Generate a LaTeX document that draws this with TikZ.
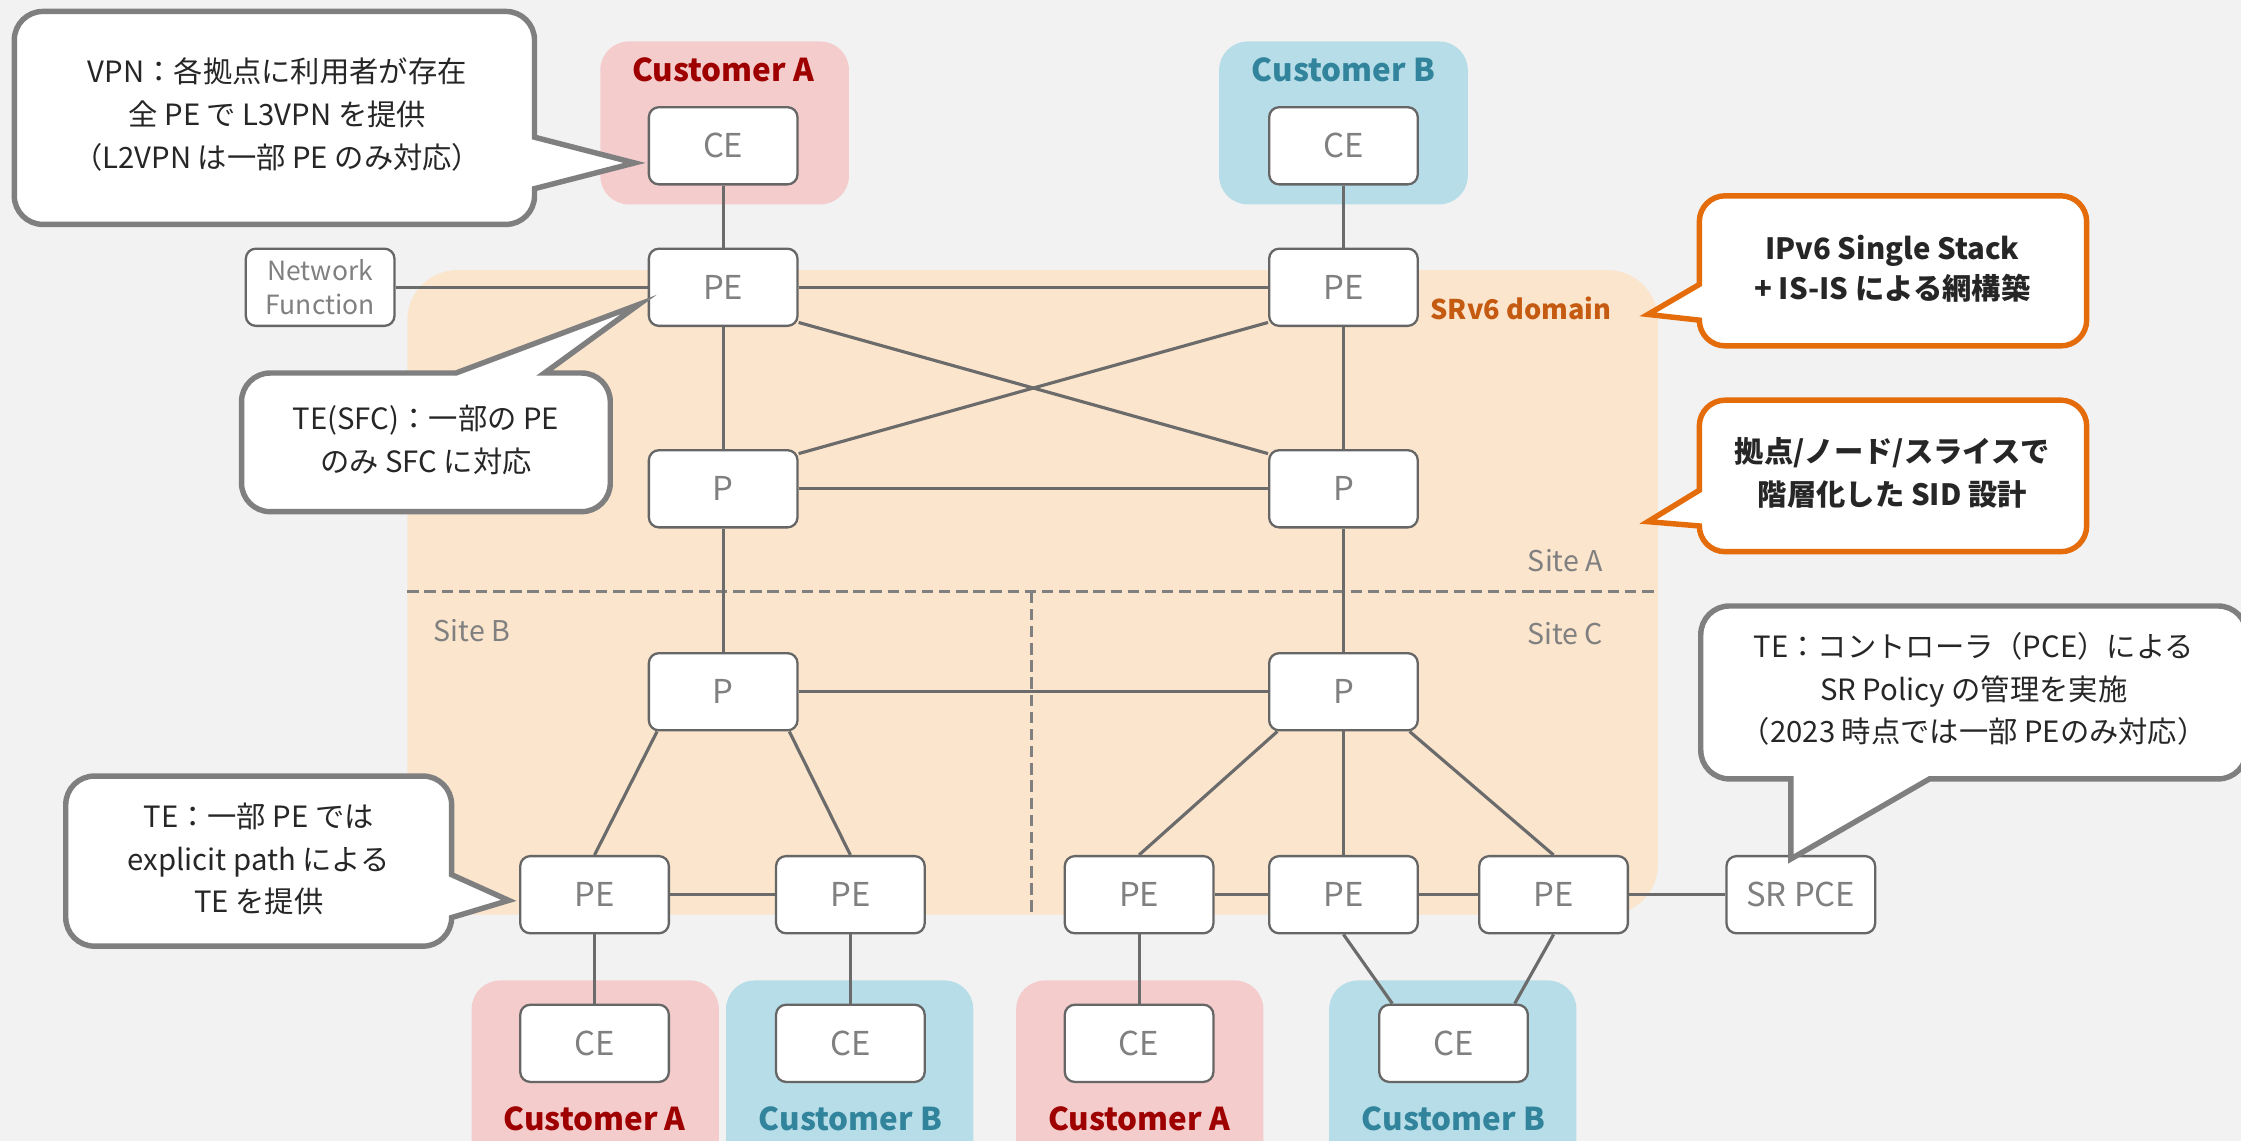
\documentclass[tikz,border=0pt]{standalone}
\usepackage{fontspec}
\setmainfont{Noto Sans CJK JP}
\usetikzlibrary{calc}

\definecolor{bggray}{HTML}{F2F2F2}
\definecolor{domfill}{HTML}{FBE5CD}
\definecolor{cafill}{HTML}{F4CCCC}
\definecolor{cbfill}{HTML}{B7DEE8}
\definecolor{catext}{HTML}{9E0000}
\definecolor{cbtext}{HTML}{31849B}
\definecolor{linegray}{HTML}{6B6B6B}
\definecolor{boxgray}{HTML}{666666}
\definecolor{labgray}{HTML}{808080}
\definecolor{notegray}{HTML}{7F7F7F}
\definecolor{noteorange}{HTML}{E46C0A}
\definecolor{domtext}{HTML}{C55A11}
\definecolor{notetext}{HTML}{262626}

\begin{document}
\begin{tikzpicture}[x=1pt,y=-1pt,
  dev/.style={draw=boxgray, line width=1.6pt, fill=white, rounded corners=7pt,
    minimum width=104pt, minimum height=54pt, inner sep=0pt, text=labgray,
    font=\fontsize{23}{26}\selectfont},
  link/.style={draw=linegray, line width=2.2pt},
  cust/.style={rounded corners=20pt},
  custlab/.style={font=\fontsize{22}{24}\selectfont\bfseries},
  sitelab/.style={text=labgray, font=\fontsize{20}{24}\selectfont},
  sitesep/.style={draw=labgray, line width=2pt, dash pattern=on 8pt off 4pt},
  note/.style={fill=white, draw=notegray, line width=3.8pt, line join=miter},
  onote/.style={note, draw=noteorange},
  notetxt/.style={align=center, text=notetext, font=\fontsize{20.5}{30}\selectfont}]

\useasboundingbox (0,0) rectangle (1568,798);
\fill[bggray] (0,0) rectangle (1568,798);

% SRv6 domain and sites
\fill[domfill, rounded corners=35pt] (285,189) rectangle (1160,640);
\draw[sitesep] (285,414) -- (1160,414);
\draw[sitesep] (722,414) -- (722,640);
\node[text=domtext, font=\fontsize{19}{22}\selectfont\bfseries, anchor=east] (srv6) at (1131,216) {SRv6 domain};
\node[sitelab, anchor=east] (siteA) at (1125,392) {Site A};
\node[sitelab, anchor=west] (siteB) at (300,441) {Site B};
\node[sitelab, anchor=east] (siteC) at (1125,443) {Site C};

% customers
\fill[cafill, cust] (420,29) rectangle (594,143);
\fill[cbfill, cust] (853,29) rectangle (1027,143);
\fill[cafill, cust] (330,686) rectangle (503,830);
\fill[cbfill, cust] (508,686) rectangle (681,830);
\fill[cafill, cust] (711,686) rectangle (884,830);
\fill[cbfill, cust] (930,686) rectangle (1103,830);
\node[custlab, text=catext] (custA1) at (506,49) {Customer A};
\node[custlab, text=cbtext] (custB1) at (940,49) {Customer B};
\node[custlab, text=catext] (custA2) at (416,783) {Customer A};
\node[custlab, text=cbtext] (custB2) at (595,783) {Customer B};
\node[custlab, text=catext] (custA3) at (797,783) {Customer A};
\node[custlab, text=cbtext] (custB3) at (1017,783) {Customer B};

\node[dev] (ceA1) at (506,102) {CE};
\node[dev] (ceB1) at (940,102) {CE};
\node[dev, font=\fontsize{18.5}{24}\selectfont, align=center] (nf) at (224,201) {Network\\Function};
\node[dev] (peA) at (506,201) {PE};
\node[dev] (peB) at (940,201) {PE};
\node[dev] (pA1) at (506,342) {P};
\node[dev] (pA2) at (940,342) {P};
\node[dev] (pB) at (506,484) {P};
\node[dev] (pC) at (940,484) {P};
\node[dev] (peB1) at (416,626) {PE};
\node[dev] (peB2) at (595,626) {PE};
\node[dev] (peC1) at (797,626) {PE};
\node[dev] (peC2) at (940,626) {PE};
\node[dev] (peC3) at (1087,626) {PE};
\node[dev] (pce) at (1260,626) {SR PCE};
\node[dev] (ceA2) at (416,730) {CE};
\node[dev] (ceB2) at (595,730) {CE};
\node[dev] (ceA3) at (797,730) {CE};
\node[dev] (ceB3) at (1017,730) {CE};

\draw[link] (ceA1) -- (peA);
\draw[link] (ceB1) -- (peB);
\draw[link] (nf) -- (peA);
\draw[link] (peA) -- (peB);
\draw[link] (peA) -- (pA1);
\draw[link] (peB) -- (pA2);
\draw[link] (peA.-25) -- (pA2.155);
\draw[link] (peB.205) -- (pA1.25);
\draw[link] (pA1) -- (pA2);
\draw[link] (pA1) -- (pB);
\draw[link] (pA2) -- (pC);
\draw[link] (pB) -- (pC);
\draw[link] (pB.-149) -- (peB1.north);
\draw[link] (pB.-31) -- (peB2.north);
\draw[link] (pC.-149) -- (peC1.north);
\draw[link] (pC) -- (peC2);
\draw[link] (pC.-31) -- (peC3.north);
\draw[link] (peB1) -- (peB2);
\draw[link] (peC1) -- (peC2);
\draw[link] (peC2) -- (peC3);
\draw[link] (peC3) -- (pce);
\draw[link] (peB1) -- (ceA2);
\draw[link] (peB2) -- (ceB2);
\draw[link] (peC1) -- (ceA3);
\draw[link] (peC2.south) -- (ceB3.147);
\draw[link] (peC3.south) -- (ceB3.33);

% callouts
\draw[note] (30,8) -- (354,8) arc[start angle=-90, end angle=0, radius=20] -- (374,96) -- (444,114) -- (374,132) -- (374,137) arc[start angle=0, end angle=90, radius=20] -- (30,157) arc[start angle=90, end angle=180, radius=20] -- (10,28) arc[start angle=180, end angle=270, radius=20] -- cycle;
\draw[note] (189,261) -- (319,261) -- (447,213) -- (381,261) -- (407,261) arc[start angle=-90, end angle=0, radius=20] -- (427,338) arc[start angle=0, end angle=90, radius=20] -- (189,358) arc[start angle=90, end angle=180, radius=20] -- (169,281) arc[start angle=180, end angle=270, radius=20] -- cycle;
\draw[note] (66,543) -- (296,543) arc[start angle=-90, end angle=0, radius=20] -- (316,612) -- (356,630) -- (316,642) arc[start angle=0, end angle=90, radius=20] -- (66,662) arc[start angle=90, end angle=180, radius=20] -- (46,563) arc[start angle=180, end angle=270, radius=20] -- cycle;
\draw[onote] (1207,137) -- (1442,137) arc[start angle=-90, end angle=0, radius=18] -- (1460,224) arc[start angle=0, end angle=90, radius=18] -- (1207,242) arc[start angle=90, end angle=180, radius=18] -- (1189,224) -- (1153,220) -- (1189,199) -- (1189,155) arc[start angle=180, end angle=270, radius=18] -- cycle;
\draw[onote] (1207,280) -- (1442,280) arc[start angle=-90, end angle=0, radius=18] -- (1460,368) arc[start angle=0, end angle=90, radius=18] -- (1207,386) arc[start angle=90, end angle=180, radius=18] -- (1189,368) -- (1153,365) -- (1189,343) -- (1189,298) arc[start angle=180, end angle=270, radius=18] -- cycle;
\draw[note] (1210,424) -- (1552,424) arc[start angle=-90, end angle=0, radius=20] -- (1572,525) arc[start angle=0, end angle=90, radius=20] -- (1350,545) -- (1253,601) -- (1253,545) -- (1210,545) arc[start angle=90, end angle=180, radius=20] -- (1190,444) arc[start angle=180, end angle=270, radius=20] -- cycle;

\node[notetxt] (vpntxt) at (194,80) {VPN：各拠点に利用者が存在\\全 PE で L3VPN を提供\\（L2VPN は一部 PE のみ対応）};
\node[notetxt] (sfctxt) at (298,308) {TE(SFC)：一部の PE\\のみ SFC に対応};
\node[notetxt] (pathtxt) at (181,601) {TE：一部 PE では\\explicit path による\\TE を提供};
\node[notetxt, font=\fontsize{20.5}{28}\selectfont\bfseries] (ipv6txt) at (1324,188) {IPv6 Single Stack\\+ IS-IS による網構築};
\node[notetxt, font=\fontsize{20.5}{30}\selectfont\bfseries] (sidtxt) at (1324,331) {拠点/ノード/スライスで\\階層化した SID 設計};
\node[notetxt] (pcetxt) at (1381,482) {TE：コントローラ（PCE）による\\SR Policy の管理を実施\\（2023 時点では一部 PEのみ対応）};
\end{tikzpicture}
\end{document}
